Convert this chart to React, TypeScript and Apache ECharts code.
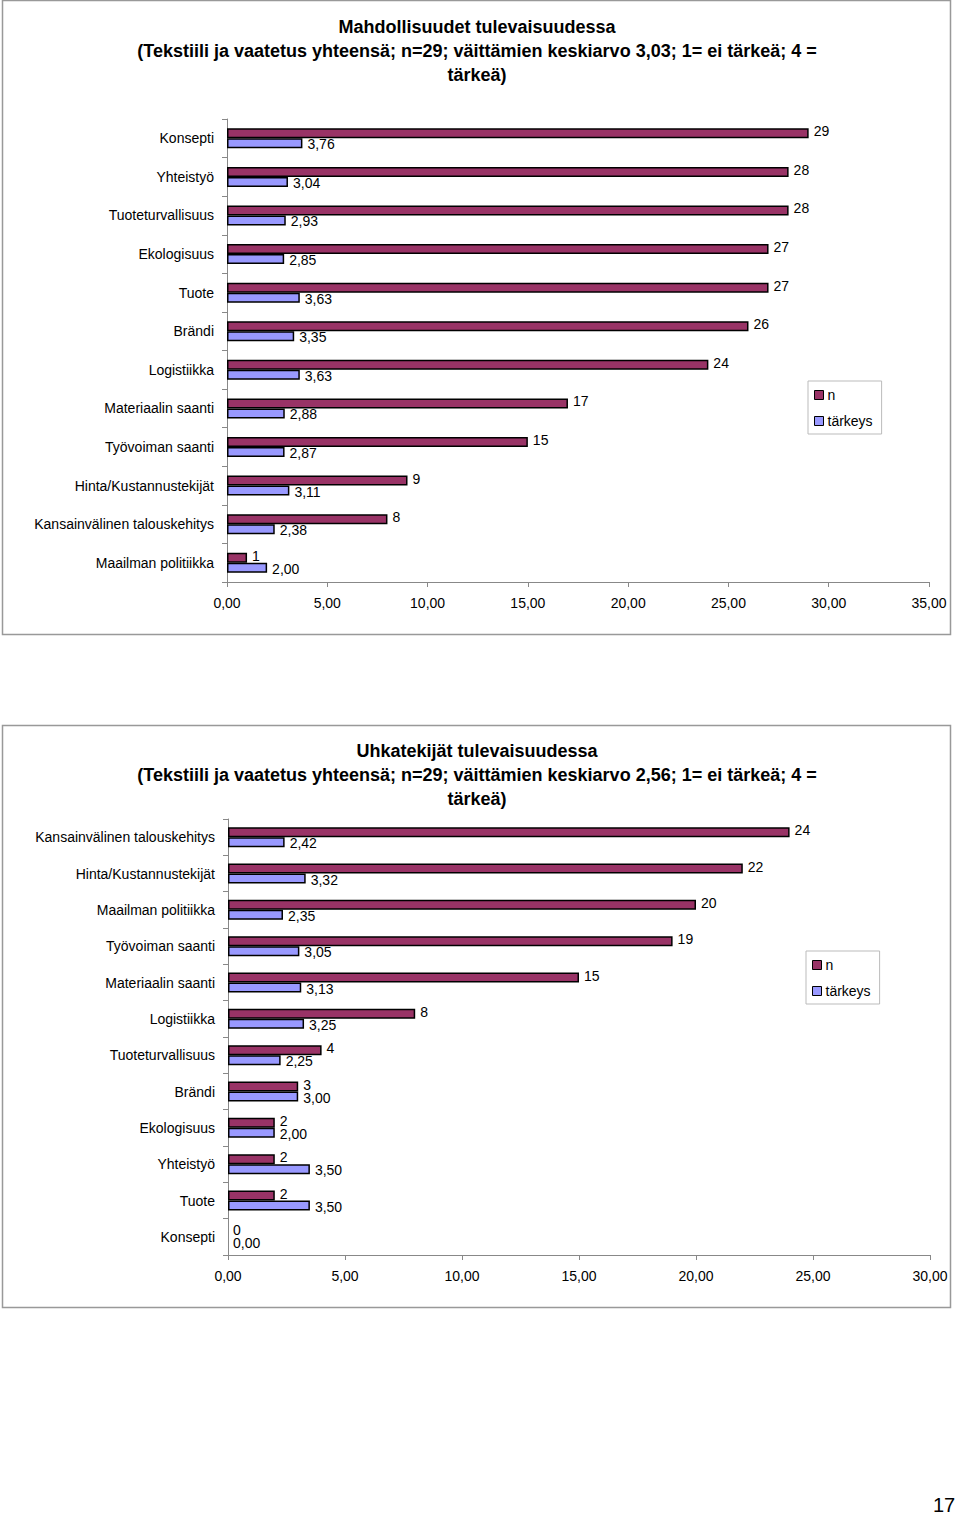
import React, { useEffect, useRef } from "react";
import * as echarts from "echarts";

const FONT = "'Liberation Sans', Arial, sans-serif";

const cats1 = [
  "Konsepti",
  "Yhteistyö",
  "Tuoteturvallisuus",
  "Ekologisuus",
  "Tuote",
  "Brändi",
  "Logistiikka",
  "Materiaalin saanti",
  "Työvoiman saanti",
  "Hinta/Kustannustekijät",
  "Kansainvälinen talouskehitys",
  "Maailman politiikka",
];
const n1 = [29, 28, 28, 27, 27, 26, 24, 17, 15, 9, 8, 1];
const t1 = [3.76, 3.04, 2.93, 2.85, 3.63, 3.35, 3.63, 2.88, 2.87, 3.11, 2.38, 2.0];

const cats2 = [
  "Kansainvälinen talouskehitys",
  "Hinta/Kustannustekijät",
  "Maailman politiikka",
  "Työvoiman saanti",
  "Materiaalin saanti",
  "Logistiikka",
  "Tuoteturvallisuus",
  "Brändi",
  "Ekologisuus",
  "Yhteistyö",
  "Tuote",
  "Konsepti",
];
const n2 = [24, 22, 20, 19, 15, 8, 4, 3, 2, 2, 2, 0];
const t2 = [2.42, 3.32, 2.35, 3.05, 3.13, 3.25, 2.25, 3.0, 2.0, 3.5, 3.5, 0.0];

const title1 =
  "Mahdollisuudet tulevaisuudessa\n(Tekstiili ja vaatetus yhteensä; n=29; väittämien keskiarvo 3,03; 1= ei tärkeä; 4 =\ntärkeä)";
const title2 =
  "Uhkatekijät tulevaisuudessa\n(Tekstiili ja vaatetus yhteensä; n=29; väittämien keskiarvo 2,56; 1= ei tärkeä; 4 =\ntärkeä)";

const MAROON = "#993366";
const LAVENDER = "#9999ff";

const fmt2 = (v: number) => v.toFixed(2).replace(".", ",");

function barData(vals: number[]) {
  return vals.map((v) =>
    v === 0 ? { value: v, itemStyle: { borderWidth: 0 } } : { value: v }
  );
}

export default function App() {
  const ref = useRef<HTMLDivElement>(null);
  useEffect(() => {
    if (!ref.current) return;
    const chart = echarts.init(ref.current, undefined, { renderer: "svg" });

    const xAxisCommon = (gridIndex: number, max: number) => ({
      type: "value",
      gridIndex,
      min: 0,
      max,
      interval: 5,
      axisLine: { show: true, lineStyle: { color: "#888", width: 1 } },
      axisTick: { show: true, inside: false, length: 5, lineStyle: { color: "#888" } },
      splitLine: { show: false },
      axisLabel: {
        color: "#000",
        fontFamily: FONT,
        fontSize: 14,
        margin: 14,
        formatter: (v: number) => fmt2(v),
      },
    });
    const yAxisCommon = (gridIndex: number, data: string[]) => ({
      type: "category",
      gridIndex,
      data,
      inverse: true,
      axisLine: { show: true, lineStyle: { color: "#888", width: 1 } },
      axisTick: { show: true, length: 5, lineStyle: { color: "#888" } },
      axisLabel: { color: "#000", fontFamily: FONT, fontSize: 14, margin: 13 },
    });

    const nSeries = (idx: number, vals: number[]) => ({
      name: "n",
      type: "bar",
      xAxisIndex: idx,
      yAxisIndex: idx,
      data: barData(vals),
      barWidth: 10,
      barGap: "0%",
      itemStyle: { color: MAROON, borderColor: "#000", borderWidth: 1.5 },
      label: {
        show: true,
        position: "right",
        distance: 5,
        offset: [0, -2],
        color: "#000",
        fontFamily: FONT,
        fontSize: 14,
        formatter: (p: any) => String(p.value),
      },
    });
    const tSeries = (idx: number, vals: number[]) => ({
      name: "tärkeys",
      type: "bar",
      xAxisIndex: idx,
      yAxisIndex: idx,
      data: barData(vals),
      barWidth: 10,
      barGap: "0%",
      itemStyle: { color: LAVENDER, borderColor: "#000", borderWidth: 1.5 },
      label: {
        show: true,
        position: "right",
        distance: 5,
        offset: [0, 1],
        color: "#000",
        fontFamily: FONT,
        fontSize: 14,
        formatter: (p: any) => fmt2(p.value),
      },
    });

    const legendCommon = {
      orient: "vertical",
      data: ["n", "tärkeys"],
      itemWidth: 9,
      itemHeight: 9,
      itemGap: 12,
      padding: [7, 9, 6, 6],
      borderColor: "#bbb",
      borderWidth: 1,
      icon: "rect",
      selectedMode: false,
      itemStyle: { borderColor: "#000", borderWidth: 1 },
      textStyle: { color: "#000", fontFamily: FONT, fontSize: 14, padding: [0, 0, 0, -1] },
    };

    const titleStyle = {
      color: "#000",
      fontFamily: FONT,
      fontSize: 18,
      fontWeight: "bold",
      lineHeight: 24,
    };

    chart.setOption({
      animation: false,
      backgroundColor: "#fff",
      title: [
        { text: title1, left: 477, top: 15, textAlign: "center", textStyle: titleStyle, padding: 0 },
        { text: title2, left: 477, top: 739, textAlign: "center", textStyle: titleStyle, padding: 0 },
      ],
      legend: [
        { ...legendCommon, left: 808, top: 381 },
        { ...legendCommon, left: 806, top: 951 },
      ],
      grid: [
        { left: 227, width: 702, top: 119, height: 463 },
        { left: 228, width: 702, top: 819, height: 436 },
      ],
      xAxis: [xAxisCommon(0, 35), xAxisCommon(1, 30)],
      yAxis: [yAxisCommon(0, cats1), yAxisCommon(1, cats2)],
      series: [nSeries(0, n1), tSeries(0, t1), nSeries(1, n2), tSeries(1, t2)],
      graphic: [
        {
          type: "rect",
          shape: { x: 2.5, y: 0.5, width: 948, height: 634 },
          style: { fill: "none", stroke: "#999", lineWidth: 1.5 },
          silent: true,
          z: -10,
        },
        {
          type: "rect",
          shape: { x: 2.5, y: 725.5, width: 948, height: 582 },
          style: { fill: "none", stroke: "#999", lineWidth: 1.5 },
          silent: true,
          z: -10,
        },
        {
          type: "text",
          x: 944,
          y: 1505,
          style: {
            text: "17",
            fill: "#000",
            font: `20px ${FONT}`,
            textAlign: "center",
            textVerticalAlign: "middle",
          },
        },
      ],
    });
    return () => chart.dispose();
  }, []);
  return (
    <div
      ref={ref}
      style={{ position: "absolute", left: 0, top: 0, width: 960, height: 1517 }}
    />
  );
}
